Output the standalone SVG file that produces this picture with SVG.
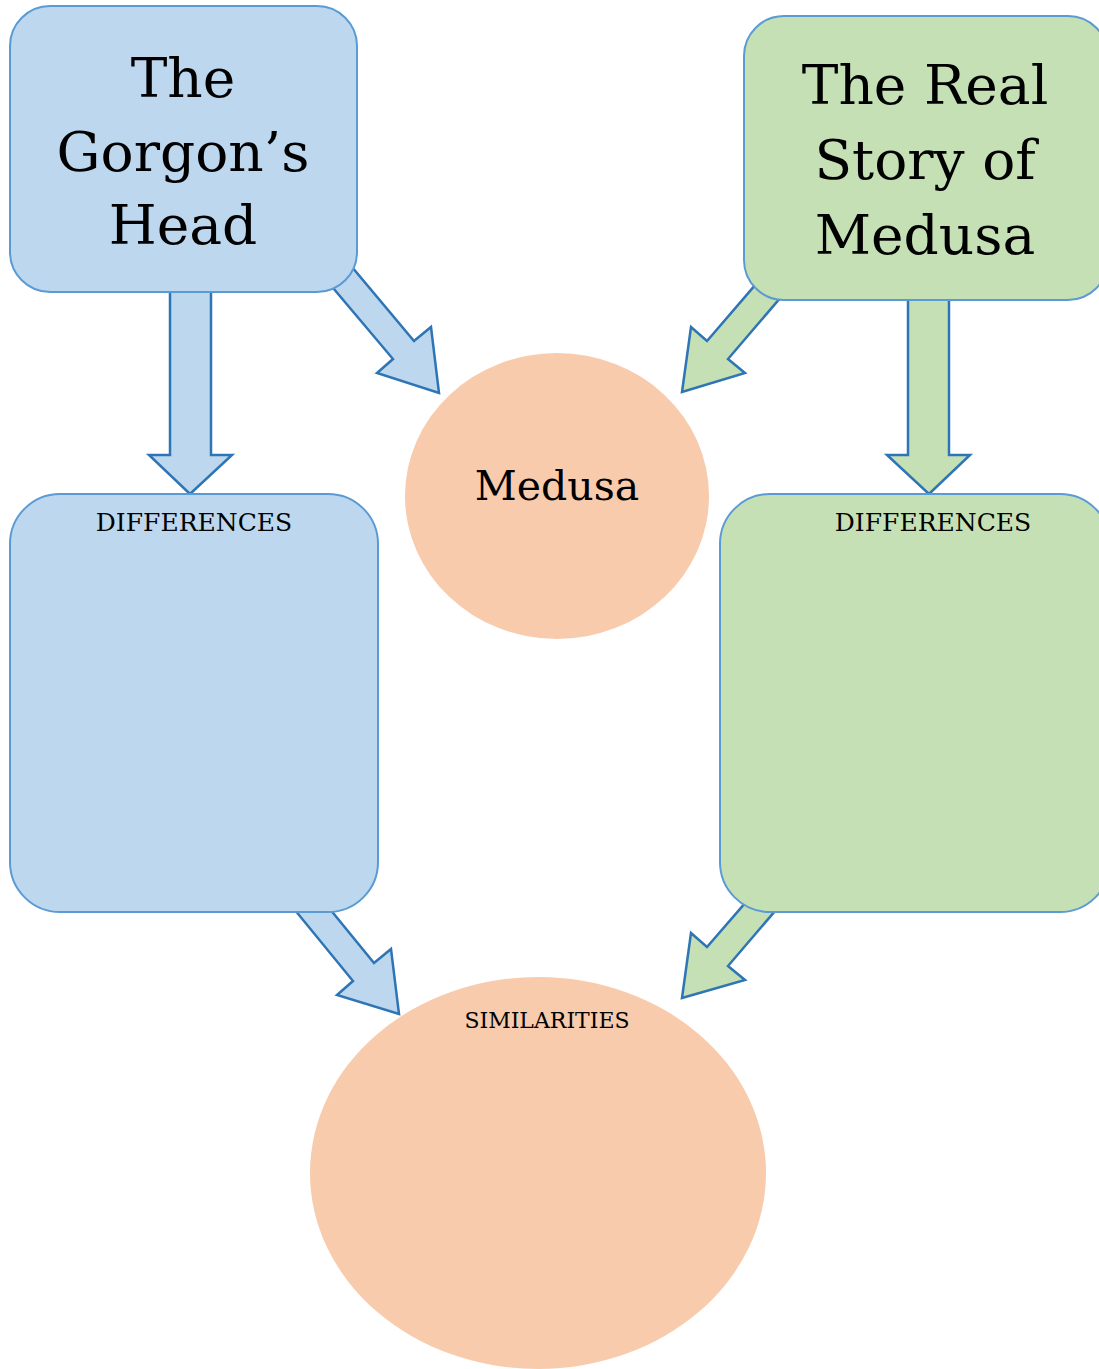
<svg xmlns="http://www.w3.org/2000/svg" width="1099" height="1369" viewBox="0 0 1099 1369">
<style>
.blue{fill:#BDD7EE;stroke:#5B9BD5;stroke-width:2}
.green{fill:#C5E0B4;stroke:#5B9BD5;stroke-width:2}
.oval{fill:#F8CBAD;stroke:none}
.ab{fill:#BDD7EE;stroke:#2E75B6;stroke-width:2.5;stroke-linejoin:miter}
.ag{fill:#C5E0B4;stroke:#2E75B6;stroke-width:2.5;stroke-linejoin:miter}
text{font-family:"DejaVu Serif","Liberation Serif",serif;fill:#000;text-anchor:middle}
.big{font-size:55px}
.mid{font-size:41px}
.small{font-size:25px}
.tiny{font-size:22px}
</style>
<rect width="1099" height="1369" fill="#fff"/>
<g id="connectors">
<polygon class="ab" points="170,280 211,280 211,455 232,455 190,494 149,455 170,455"/>
<polygon class="ag" points="908,288 949,288 949,455 970,455 929,494 887,455 908,455"/>
<polygon class="ab" points="326,236 414,341 431,327 439,393 377,373 393,359 307,257"/>
<polygon class="ag" points="781,255 707,341 691,327 682,392 745,373 728,359 805,269"/>
<polygon class="ab" points="307,881 374,963 391,949 399,1014 337,995 353,981 272,882"/>
<polygon class="ag" points="772,872 707,947 691,933 682,998 745,980 728,966 799,883"/>
</g>
<g id="gorgons-head">
<rect class="blue" x="10" y="6" width="347" height="286" rx="40"/>
<text class="big" x="183" y="97">The</text>
<text class="big" x="183" y="171">Gorgon’s</text>
<text class="big" x="183" y="244">Head</text>
</g>
<g id="real-story">
<rect class="green" x="744" y="16" width="364" height="284" rx="40"/>
<text class="big" x="925" y="104">The Real</text>
<text class="big" x="925" y="179">Story of</text>
<text class="big" x="925" y="254">Medusa</text>
</g>
<g id="medusa">
<ellipse class="oval" cx="557" cy="496" rx="152" ry="143"/>
<text class="mid" x="557" y="500">Medusa</text>
</g>
<g id="differences-left">
<rect class="blue" x="10" y="494" width="368" height="418" rx="50"/>
<text class="small" x="194" y="531">DIFFERENCES</text>
</g>
<g id="differences-right">
<rect class="green" x="720" y="494" width="390" height="418" rx="50"/>
<text class="small" x="933" y="531">DIFFERENCES</text>
</g>
<g id="similarities">
<ellipse class="oval" cx="538" cy="1173" rx="228" ry="196"/>
<text class="tiny" x="547" y="1028">SIMILARITIES</text>
</g>
</svg>
